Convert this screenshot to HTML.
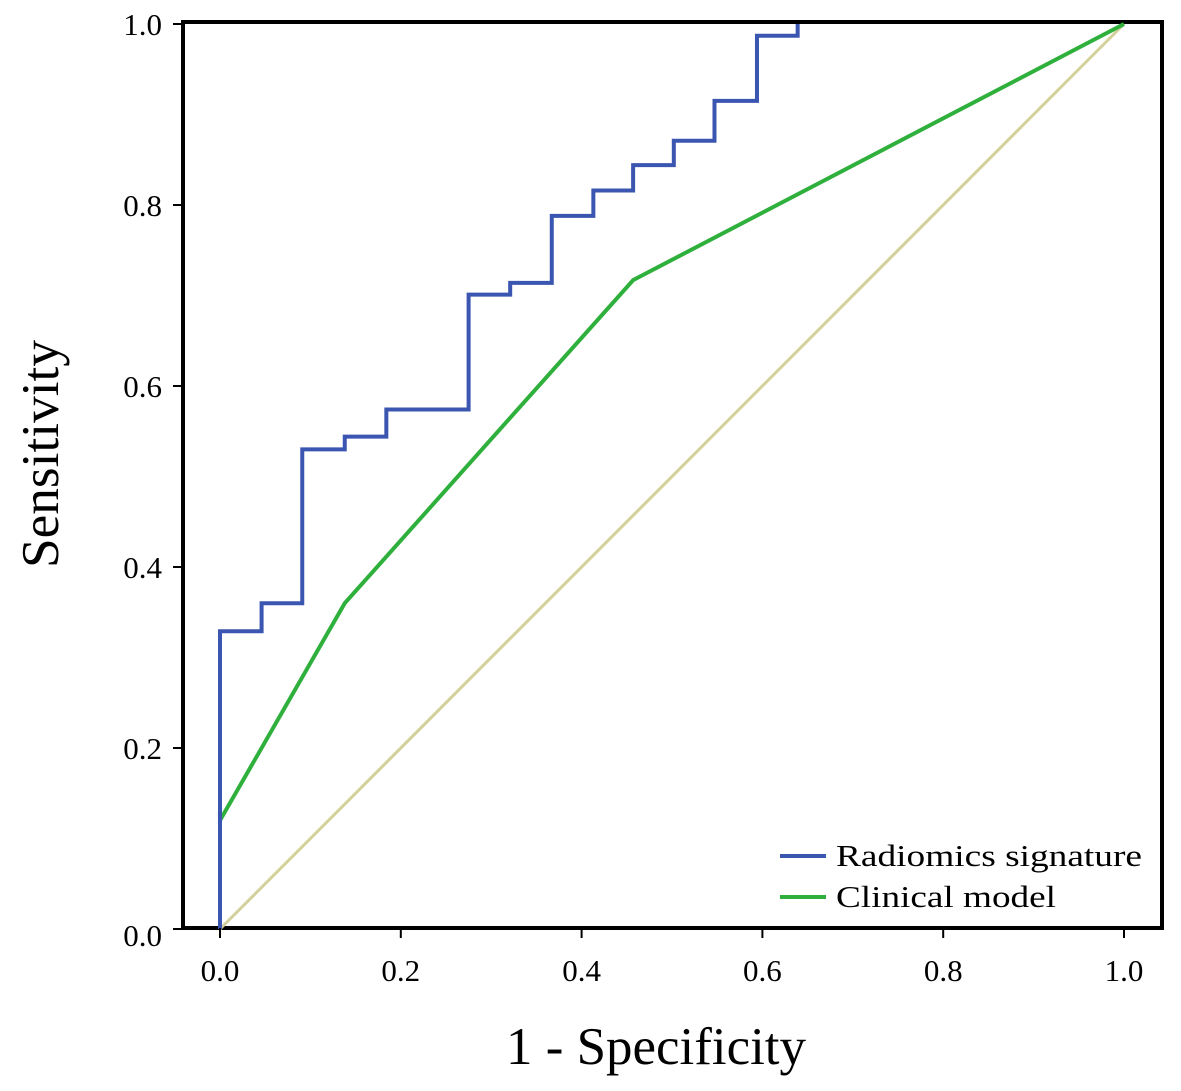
<!DOCTYPE html>
<html><head><meta charset="utf-8"><style>
html,body{margin:0;padding:0;background:#fff;}
svg{display:block;font-family:"Liberation Serif",serif;}
</style></head><body>
<svg id="chart" width="1181" height="1091" viewBox="0 0 1181 1091">
<g id="grid"></g>
<rect x="183" y="22" width="979" height="906" fill="none" stroke="#000" stroke-width="4"/>
<g id="marks"></g>
<g id="axes"></g>
<text x="656" y="1064" font-size="53" text-anchor="middle" textLength="300" lengthAdjust="spacingAndGlyphs">1 - Specificity</text>
<text transform="translate(58,454) rotate(-90)" font-size="53" text-anchor="middle" textLength="228" lengthAdjust="spacingAndGlyphs">Sensitivity</text>
<g>
<line x1="780" y1="856" x2="826" y2="856" stroke="#3b56b0" stroke-width="4"/>
<text x="836" y="866" font-size="31" textLength="306" lengthAdjust="spacingAndGlyphs">Radiomics signature</text>
<line x1="780" y1="897" x2="826" y2="897" stroke="#2fb03c" stroke-width="4"/>
<text x="836" y="907" font-size="31" textLength="220" lengthAdjust="spacingAndGlyphs">Clinical model</text>
</g>
</svg>
<script>
const xTicks=[0,0.2,0.4,0.6,0.8,1.0];
const yTicks=[0,0.2,0.4,0.6,0.8,1.0];
const radFpr=[0,0,0.046,0.046,0.091,0.091,0.138,0.138,0.184,0.184,0.275,0.275,0.321,0.321,0.367,0.367,0.413,0.413,0.457,0.457,0.502,0.502,0.547,0.547,0.594,0.594,0.639,0.639];
const radTpr=[0,0.329,0.329,0.36,0.36,0.53,0.53,0.544,0.544,0.574,0.574,0.701,0.701,0.714,0.714,0.788,0.788,0.816,0.816,0.844,0.844,0.871,0.871,0.915,0.915,0.987,0.987,1.0];
const clinFpr=[0,0,0.138,0.457,1.0];
const clinTpr=[0,0.12,0.36,0.717,1.0];
const refFpr=[0,1];
const refTpr=[0,1];
const X=v=>220+v*904;
const Y=v=>929-v*905;
const NS="http://www.w3.org/2000/svg";
const marks=document.getElementById('marks'),axes=document.getElementById('axes');
function line(xs,ys,color,name,w){
  const p=document.createElementNS(NS,'polyline');
  p.setAttribute('points',xs.map((x,i)=>X(x)+','+Y(ys[i])).join(' '));
  p.setAttribute('fill','none');p.setAttribute('stroke',color);p.setAttribute('stroke-width',w);
  
  
  marks.appendChild(p);
}
line(refFpr,refTpr,'#d4d09a','reference-diagonal',3);
line(clinFpr,clinTpr,'#2fb03c','clinical-model-curve',4);
line(radFpr,radTpr,'#3b56b0','radiomics-signature-curve',4);
xTicks.forEach(t=>{
  const l=document.createElementNS(NS,'line');
  l.setAttribute('x1',X(t));l.setAttribute('x2',X(t));l.setAttribute('y1',928);l.setAttribute('y2',938);
  l.setAttribute('stroke','#000');l.setAttribute('stroke-width',2);
  
  
  axes.appendChild(l);
  const tx=document.createElementNS(NS,'text');
  tx.setAttribute('x',X(t));tx.setAttribute('y',981);tx.setAttribute('font-size',31);tx.setAttribute('text-anchor','middle');
  tx.textContent=t.toFixed(1);
  
  
  axes.appendChild(tx);
});
yTicks.forEach(t=>{
  const l=document.createElementNS(NS,'line');
  l.setAttribute('x1',173);l.setAttribute('x2',183);l.setAttribute('y1',Y(t));l.setAttribute('y2',Y(t));
  l.setAttribute('stroke','#000');l.setAttribute('stroke-width',2);
  
  
  axes.appendChild(l);
  const tx=document.createElementNS(NS,'text');
  tx.setAttribute('x',162);tx.setAttribute('y',Y(t)+11+(t===0?6:0));tx.setAttribute('font-size',31);tx.setAttribute('text-anchor','end');
  tx.textContent=t.toFixed(1);
  
  
  axes.appendChild(tx);
});
</script>
</body></html>
